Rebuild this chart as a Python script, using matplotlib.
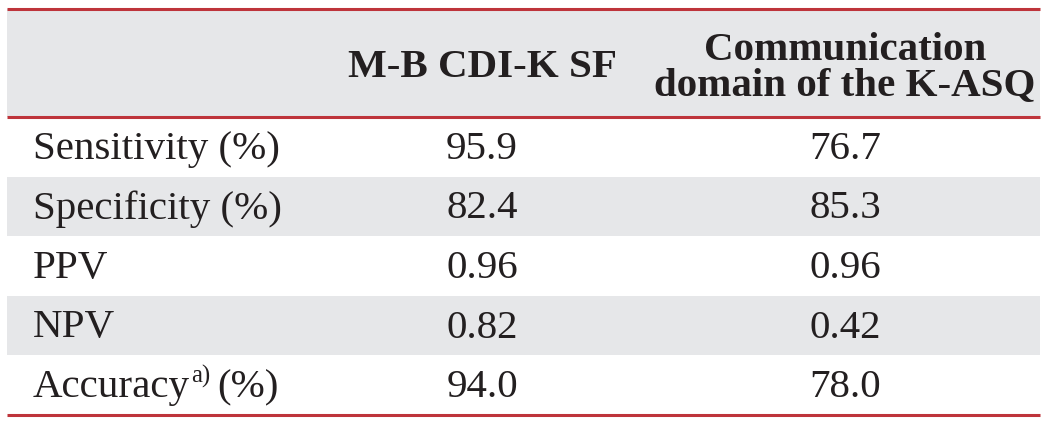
import matplotlib
matplotlib.use("Agg")
import matplotlib.pyplot as plt
from matplotlib.patches import Rectangle

W, H = 1046, 421
LEFT, RIGHT = 7, 1040
TOP, HEAD_BOT = 9, 117
ROW_H = 59.5
COL_X = [33, 482, 845]
SHADE = "#e6e7e9"
RED = "#be343b"
FONT = "Liberation Serif"
FS = 29.5

col1_header = "M-B CDI-K SF"
col2_header = ["Communication", "domain of the K-ASQ"]
row_labels = ["Sensitivity (%)", "Specificity (%)", "PPV", "NPV", "Accuracy"]
mbcdi = ["95.9", "82.4", "0.96", "0.82", "94.0"]
kasq = ["76.7", "85.3", "0.96", "0.42", "78.0"]

fig = plt.figure(figsize=(W / 100, H / 100), dpi=100)
ax = fig.add_axes([0, 0, 1, 1])
ax.set_xlim(0, W)
ax.set_ylim(H, 0)
ax.axis("off")

# header band
ax.add_patch(Rectangle((LEFT, TOP), RIGHT - LEFT, HEAD_BOT - TOP, color=SHADE, lw=0))
hkw = dict(ha="center", va="baseline", fontsize=FS, family=FONT, fontweight="bold", color="#231f20")
ax.text(COL_X[1], 77, col1_header, **hkw)
ax.text(COL_X[2], 60, col2_header[0], **hkw)
ax.text(COL_X[2], 95, col2_header[1], **hkw)

kw = dict(va="baseline", fontsize=FS, family=FONT, color="#231f20")
for r, lab in enumerate(row_labels):
    y0 = HEAD_BOT + r * ROW_H
    if r % 2 == 1:
        ax.add_patch(Rectangle((LEFT, y0), RIGHT - LEFT, ROW_H, color=SHADE, lw=0))
    yb = y0 + 42
    t = ax.text(COL_X[0], yb, lab, ha="left", **kw)
    if lab == "Accuracy":
        fig.canvas.draw()
        bb = t.get_window_extent()
        x_end = ax.transData.inverted().transform((bb.x1, 0))[0]
        s = ax.text(x_end + 1, yb - 14, "a)", ha="left", va="baseline",
                    fontsize=FS * 0.6, family=FONT, color="#231f20")
        fig.canvas.draw()
        bb2 = s.get_window_extent()
        x_end2 = ax.transData.inverted().transform((bb2.x1, 0))[0]
        ax.text(x_end2 + 7, yb, "(%)", ha="left", **kw)
    ax.text(COL_X[1], yb, mbcdi[r], ha="center", **kw)
    ax.text(COL_X[2], yb, kasq[r], ha="center", **kw)

bottom = HEAD_BOT + len(row_labels) * ROW_H
for y in [TOP, HEAD_BOT, bottom]:
    ax.plot([LEFT, RIGHT], [y, y], color=RED, lw=2.2, solid_capstyle="butt")

fig.savefig("out.png", dpi=100)
